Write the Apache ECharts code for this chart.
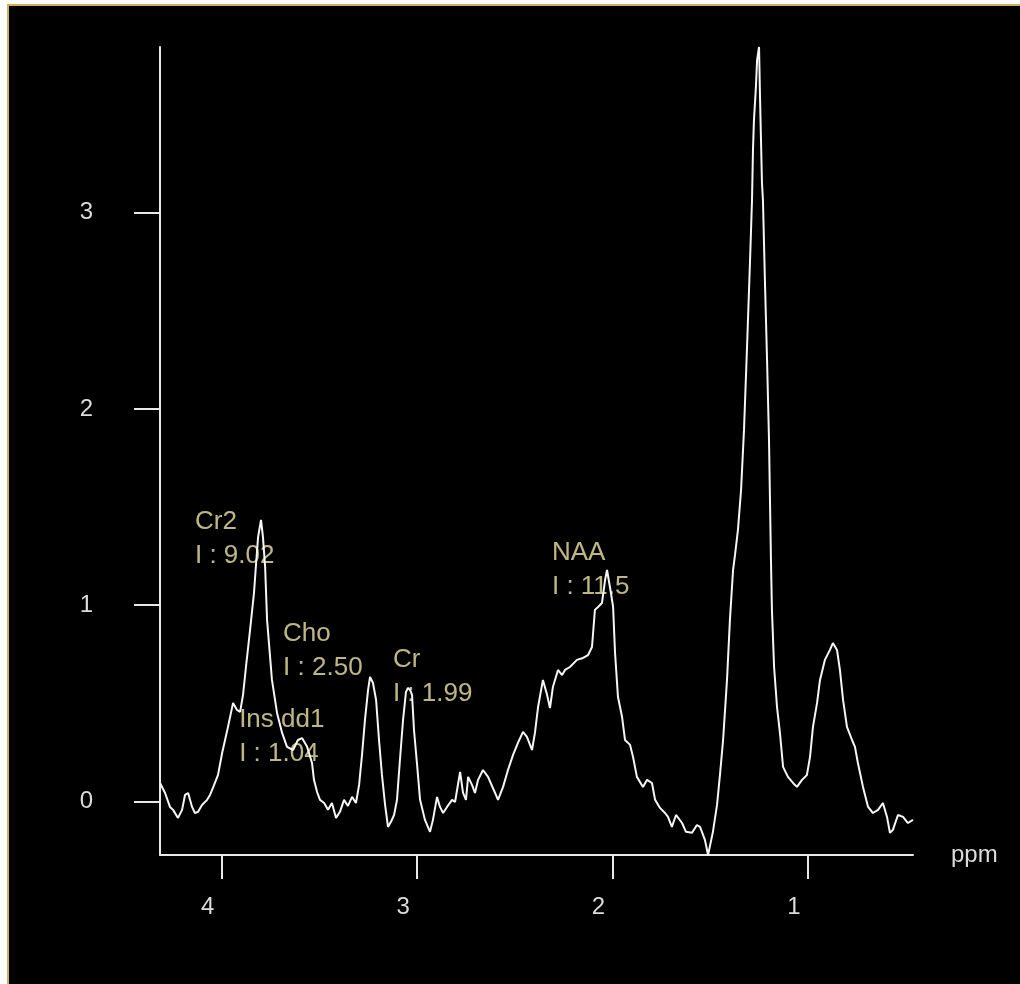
<!DOCTYPE html>
<html>
<head>
<meta charset="utf-8">
<title>MR spectrum</title>
<script src="https://cdn.jsdelivr.net/npm/echarts@6/dist/echarts.min.js"></script>
<style>
  html, body { margin: 0; padding: 0; background: #000; }
  #chart { width: 1020px; height: 984px; }
</style>
</head>
<body>
<div id="chart"></div>
<script>
// Chemical shift (ppm), from high field edge of the window down to low.
const ppm = [
  4.316, 4.290, 4.265, 4.249, 4.224, 4.203, 4.188, 4.172, 4.152, 4.137,
  4.121, 4.101, 4.075, 4.060, 4.045, 4.019, 3.998, 3.983, 3.968, 3.942,
  3.922, 3.906, 3.891, 3.876, 3.855, 3.835, 3.824, 3.814, 3.799, 3.789,
  3.778, 3.768, 3.743, 3.717, 3.691, 3.666, 3.635, 3.610, 3.589, 3.563,
  3.538, 3.528, 3.512, 3.497, 3.476, 3.456, 3.436, 3.415, 3.395, 3.374,
  3.354, 3.333, 3.313, 3.297, 3.282, 3.267, 3.251, 3.241, 3.226, 3.210,
  3.195, 3.180, 3.164, 3.149, 3.134, 3.118, 3.103, 3.088, 3.072, 3.057,
  3.047, 3.036, 3.026, 3.016, 3.001, 2.985, 2.960, 2.934, 2.919, 2.898,
  2.883, 2.867, 2.847, 2.821, 2.806, 2.780, 2.765, 2.750, 2.739, 2.719,
  2.704, 2.688, 2.663, 2.637, 2.601, 2.586, 2.560, 2.535, 2.509, 2.484,
  2.458, 2.438, 2.412, 2.397, 2.381, 2.356, 2.335, 2.320, 2.305, 2.279,
  2.258, 2.243, 2.218, 2.182, 2.151, 2.125, 2.105, 2.090, 2.074, 2.054,
  2.038, 2.028, 2.008, 1.997, 1.987, 1.972, 1.951, 1.936, 1.910, 1.895,
  1.875, 1.844, 1.823, 1.798, 1.782, 1.757, 1.731, 1.716, 1.696, 1.675,
  1.644, 1.624, 1.593, 1.568, 1.552, 1.527, 1.511, 1.486, 1.465, 1.450,
  1.434, 1.414, 1.399, 1.383, 1.373, 1.358, 1.342, 1.327, 1.312, 1.296,
  1.286, 1.281, 1.276, 1.266, 1.260, 1.250, 1.245, 1.240, 1.235, 1.230,
  1.220, 1.209, 1.199, 1.194, 1.189, 1.184, 1.173, 1.158, 1.143, 1.127,
  1.102, 1.076, 1.056, 1.030, 1.005, 0.989, 0.974, 0.953, 0.938, 0.913,
  0.887, 0.872, 0.851, 0.836, 0.820, 0.800, 0.774, 0.759, 0.744, 0.718,
  0.692, 0.667, 0.641, 0.616, 0.595, 0.580, 0.565, 0.539, 0.513, 0.488,
  0.462
];

// Signal amplitude at each ppm point.
const signal = [
  0.094, 0.043, -0.028, -0.043, -0.084, -0.043, 0.033, 0.043, -0.028, -0.059,
  -0.053, -0.018, 0.008, 0.033, 0.069, 0.135, 0.247, 0.313, 0.380, 0.502,
  0.466, 0.456, 0.543, 0.685, 0.874, 1.062, 1.215, 1.347, 1.434, 1.347,
  1.195, 0.925, 0.619, 0.451, 0.349, 0.278, 0.262, 0.313, 0.323, 0.278,
  0.196, 0.110, 0.048, 0.008, -0.008, -0.043, -0.008, -0.084, -0.053, 0.008,
  -0.023, 0.023, -0.008, 0.084, 0.237, 0.415, 0.568, 0.634, 0.604, 0.517,
  0.313, 0.135, -0.018, -0.130, -0.104, -0.069, 0.008, 0.211, 0.415, 0.558,
  0.578, 0.568, 0.543, 0.364, 0.196, 0.008, -0.094, -0.155, -0.094, 0.023,
  -0.028, -0.059, -0.028, 0.008, -0.003, 0.150, 0.043, 0.008, 0.125, 0.084,
  0.043, 0.110, 0.160, 0.125, 0.043, 0.008, 0.074, 0.160, 0.237, 0.298,
  0.354, 0.329, 0.262, 0.349, 0.481, 0.619, 0.543, 0.476, 0.583, 0.670,
  0.644, 0.670, 0.685, 0.721, 0.731, 0.746, 0.787, 0.976, 0.991, 1.011,
  1.128, 1.179, 1.062, 0.991, 0.757, 0.532, 0.430, 0.313, 0.288, 0.227,
  0.125, 0.074, 0.110, 0.094, 0.008, -0.033, -0.059, -0.079, -0.130, -0.069,
  -0.110, -0.155, -0.160, -0.120, -0.130, -0.196, -0.273, -0.155, -0.018, 0.135,
  0.313, 0.619, 0.925, 1.179, 1.256, 1.383, 1.587, 1.893, 2.300, 2.759,
  3.064, 3.319, 3.472, 3.640, 3.777, 3.844, 3.589, 3.370, 3.151, 3.064,
  2.657, 2.249, 1.842, 1.536, 1.230, 0.976, 0.685, 0.481, 0.349, 0.176,
  0.125, 0.094, 0.074, 0.110, 0.135, 0.227, 0.380, 0.502, 0.619, 0.721,
  0.772, 0.807, 0.772, 0.670, 0.517, 0.380, 0.313, 0.278, 0.196, 0.074,
  -0.028, -0.059, -0.043, -0.008, -0.079, -0.160, -0.145, -0.069, -0.079, -0.110,
  -0.094
];

// Tick values on each axis.
const ppmTicks = [1, 2, 3, 4];
const signalTicks = [0, 1, 2, 3];

// Metabolite annotations: name, integral text, anchor (ppm, signal) of the label block.
const metaboliteNames = ['Cr2', 'Ins dd1', 'Cho', 'Cr', 'NAA'];
const metaboliteIntegrals = ['9.02', '1.04', '2.50', '1.99', '11.5'];
const labelPpm = [4.137, 3.911, 3.686, 3.124, 2.310];
const labelSignal = [1.510, 0.502, 0.940, 0.807, 1.352];

const axisColor = '#e8e8e8';
const textColor = '#dcdcdc';
const noteColor = '#eee3a4';
const fontFamily = '"Liberation Sans", Arial, sans-serif';

const chart = echarts.init(document.getElementById('chart'), null, { renderer: 'canvas' });

chart.setOption({
  animation: false,
  backgroundColor: '#000000',
  grid: { left: 160, top: 47, width: 753, height: 808, containLabel: false },
  xAxis: {
    type: 'value',
    inverse: true,
    min: 'dataMin',
    max: 'dataMax',
    name: 'ppm',
    // the axis runs right-to-left, so its start sits at the right-hand end
    nameLocation: 'start',
    nameGap: 38,
    nameTextStyle: { color: textColor, fontSize: 24, fontFamily: fontFamily },
    axisLine: { show: true, onZero: false, lineStyle: { color: axisColor, width: 2 } },
    axisTick: { show: true, customValues: ppmTicks, length: 24, lineStyle: { color: axisColor, width: 2 } },
    axisLabel: {
      customValues: ppmTicks,
      margin: 40,
      padding: [0, 28, 0, 0],
      color: textColor,
      fontSize: 24,
      fontFamily: fontFamily
    },
    splitLine: { show: false }
  },
  yAxis: {
    type: 'value',
    min: 'dataMin',
    max: 'dataMax',
    axisLine: { show: true, onZero: false, lineStyle: { color: axisColor, width: 2 } },
    axisTick: { show: true, customValues: signalTicks, length: 26, lineStyle: { color: axisColor, width: 2 } },
    axisLabel: {
      customValues: signalTicks,
      margin: 67,
      color: textColor,
      fontSize: 24,
      fontFamily: fontFamily
    },
    splitLine: { show: false }
  },
  graphic: [
    // white margin and gilt frame edge along the top and left
    { type: 'rect', left: 0, top: 0, shape: { width: 1020, height: 4 }, style: { fill: '#ffffff' }, z: 100 },
    { type: 'rect', left: 0, top: 0, shape: { width: 7, height: 984 }, style: { fill: '#ffffff' }, z: 100 },
    { type: 'rect', left: 7, top: 4, shape: { width: 1013, height: 2 }, style: { fill: '#cfae5e' }, z: 101 },
    { type: 'rect', left: 7, top: 4, shape: { width: 2, height: 980 }, style: { fill: '#cfae5e' }, z: 101 }
  ],
  series: [
    {
      type: 'line',
      data: ppm.map((p, i) => [p, signal[i]]),
      symbol: 'none',
      lineStyle: { color: '#f6f6f6', width: 2 },
      z: 3
    },
    {
      type: 'scatter',
      symbolSize: 0,
      data: metaboliteNames.map((n, i) => ({
        value: [labelPpm[i], labelSignal[i]],
        name: n
      })),
      label: {
        show: true,
        position: [0, 0],
        align: 'left',
        verticalAlign: 'top',
        color: noteColor,
        fontSize: 26,
        lineHeight: 34,
        fontFamily: fontFamily,
        formatter: (p) => p.name + '\nI : ' + metaboliteIntegrals[p.dataIndex]
      },
      silent: true,
      z: 2
    }
  ]
});
</script>
</body>
</html>
